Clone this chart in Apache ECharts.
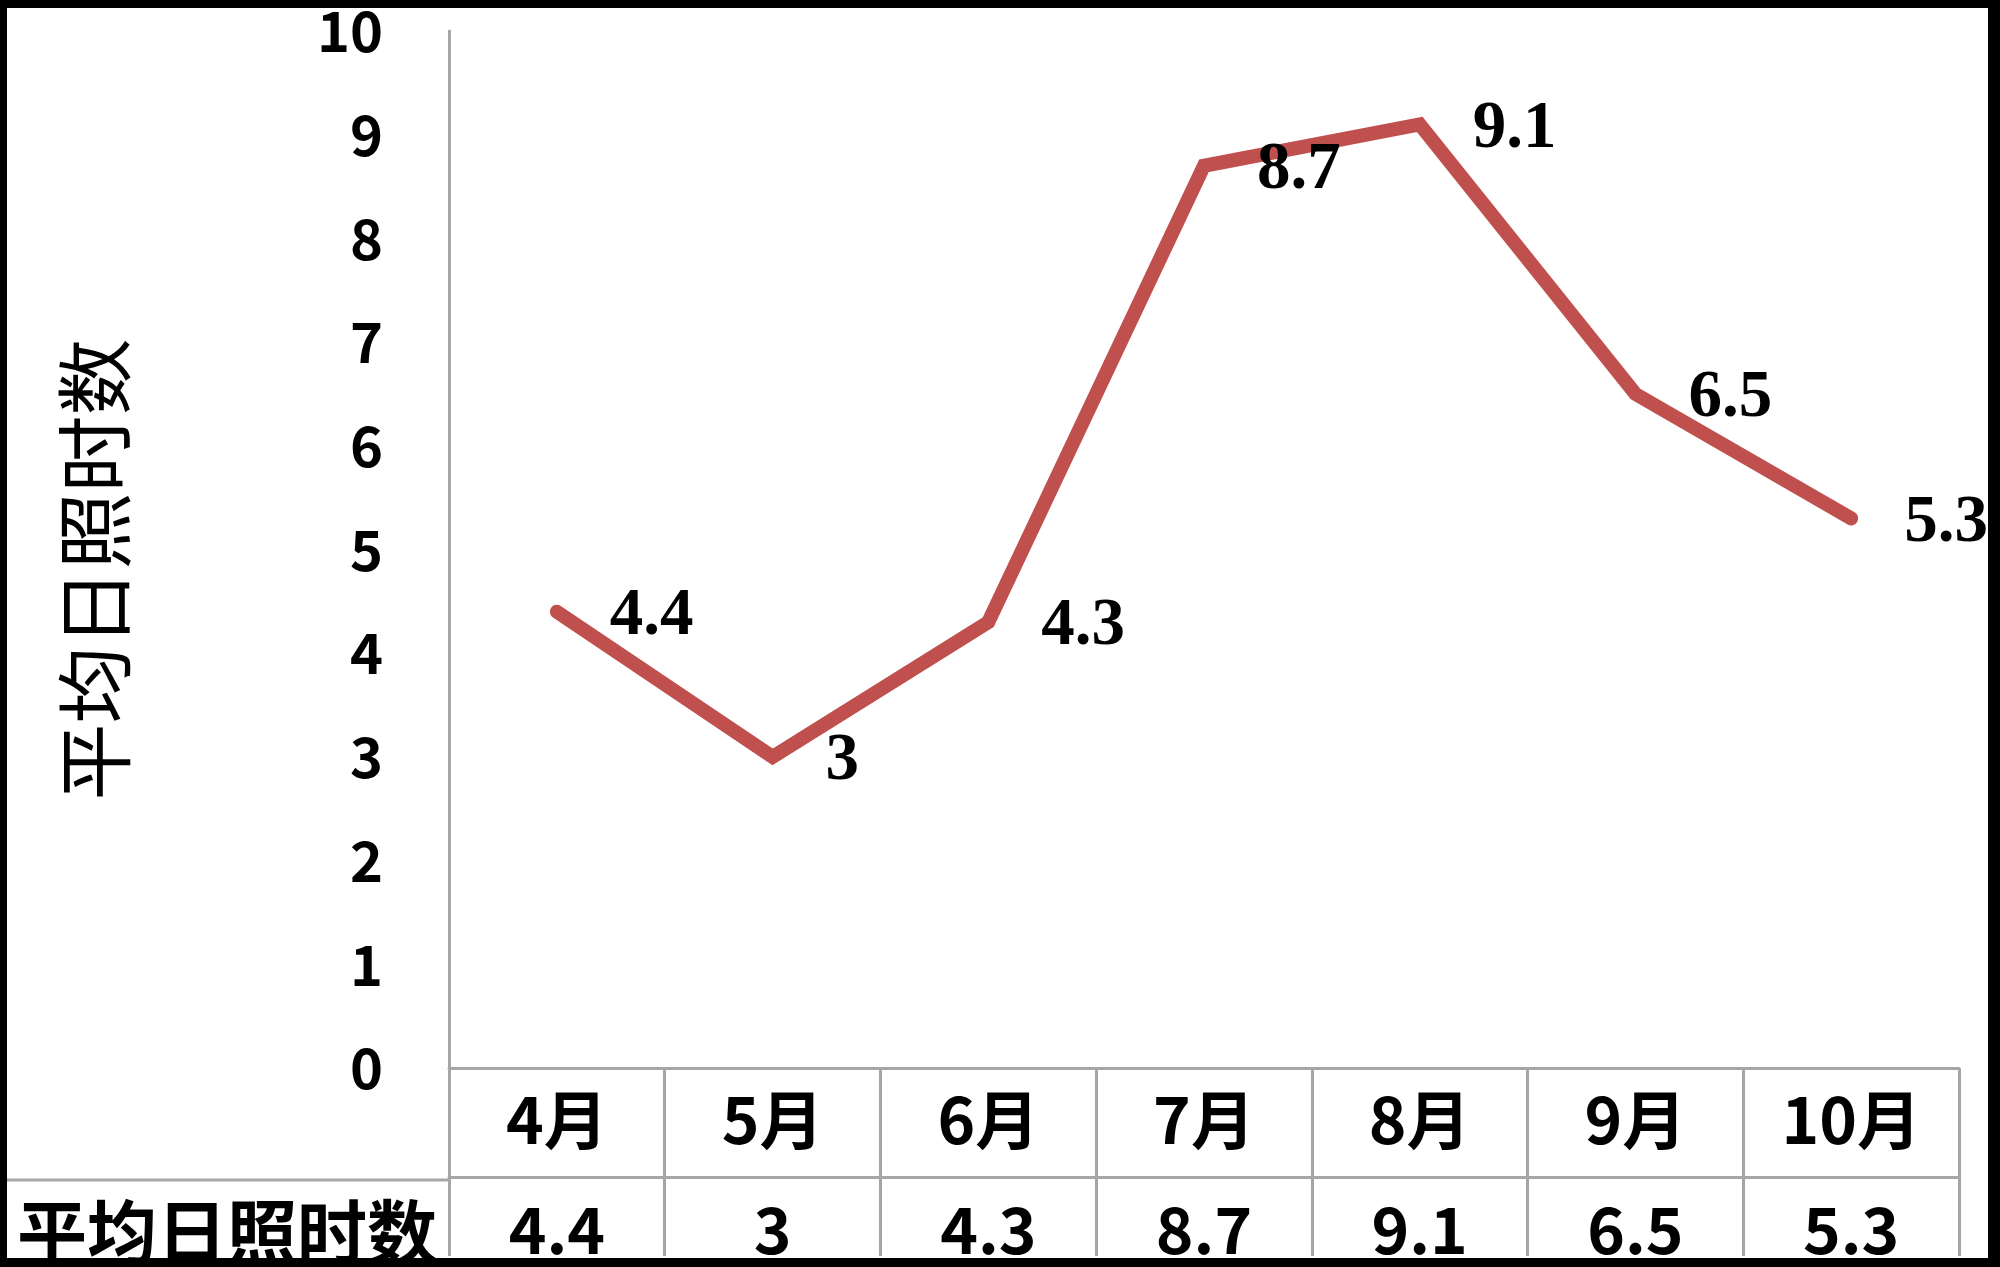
<!DOCTYPE html>
<html>
<head>
<meta charset="utf-8">
<script src="https://cdn.jsdelivr.net/npm/echarts@6/dist/echarts.min.js"></script>
<style>
  html, body { margin: 0; padding: 0; background: #fff; }
  #chart { width: 2000px; height: 1267px; }
</style>
</head>
<body>
<div id="chart"></div>
<script>
// months along the bottom and the average daily sunshine hours
const months = ['4月', '5月', '6月', '7月', '8月', '9月', '10月'];
const sunHours = [4.4, 3, 4.3, 8.7, 9.1, 6.5, 5.3];
const seriesName = '平均日照时数';
const yTicks = { min: 0, max: 10, interval: 1 };

const gridGray = '#A6A6A6';
const lineRed = '#C0504D';
const cjk = '"Noto Sans CJK SC", "Noto Sans", sans-serif';

const chart = echarts.init(document.getElementById('chart'));

chart.setOption({
  backgroundColor: '#fff',
  animation: false,
  grid: { left: 449, right: 41, top: 31, bottom: 196 },
  xAxis: [
    {
      type: 'category',
      data: months,
      boundaryGap: true,
      axisLine: { show: true, lineStyle: { color: gridGray, width: 3 } },
      axisTick: { show: true, length: 188, lineStyle: { color: gridGray, width: 3 } },
      axisLabel: {
        margin: 20,
        color: '#000',
        fontFamily: cjk,
        fontWeight: 'bold',
        fontSize: 64,
        lineHeight: 64
      }
    },
    {
      // second row of the data table: the values
      type: 'category',
      data: months,
      position: 'bottom',
      offset: 109,
      boundaryGap: true,
      axisLine: { show: true, lineStyle: { color: gridGray, width: 3 } },
      axisTick: { show: false },
      axisLabel: {
        margin: 21,
        color: '#000',
        fontFamily: cjk,
        fontWeight: 'bold',
        fontSize: 64,
        lineHeight: 64,
        formatter: (v, i) => String(sunHours[i])
      },
      name: seriesName,
      nameLocation: 'start',
      nameGap: 12,
      nameTextStyle: {
        color: '#000',
        fontFamily: cjk,
        fontWeight: 'bold',
        fontSize: 70,
        align: 'right',
        verticalAlign: 'top',
        padding: [20, 0, 0, 0]
      }
    }
  ],
  yAxis: {
    type: 'value',
    min: yTicks.min,
    max: yTicks.max,
    interval: yTicks.interval,
    axisLine: { show: true, lineStyle: { color: gridGray, width: 3 } },
    axisTick: { show: false },
    splitLine: { show: false },
    axisLabel: {
      margin: 66,
      color: '#000',
      fontFamily: cjk,
      fontWeight: 'bold',
      fontSize: 56
    },
    name: seriesName,
    nameLocation: 'middle',
    nameGap: 316,
    nameTextStyle: {
      color: '#000',
      fontFamily: cjk,
      fontSize: 77,
      padding: [0, 40, 0, 0]
    }
  },
  series: [
    {
      name: seriesName,
      type: 'line',
      data: sunHours,
      symbol: 'circle',
      symbolSize: 2,
      showSymbol: true,
      itemStyle: { color: lineRed },
      lineStyle: { color: lineRed, width: 14, cap: 'round', join: 'miter' },
      label: {
        show: true,
        position: 'right',
        distance: 52,
        offset: [0, 5],
        color: '#000',
        fontFamily: '"Liberation Serif", "Times New Roman", serif',
        fontWeight: 'bold',
        fontSize: 67
      }
    }
  ],
  graphic: [
    // left part of the table's middle rule
    { type: 'line', z: 50, shape: { x1: 0, y1: 1180, x2: 449, y2: 1180 }, style: { stroke: gridGray, lineWidth: 3 } },
    // black frame
    { type: 'rect', z: 100, shape: { x: 0, y: 0, width: 2000, height: 8 }, style: { fill: '#000' } },
    { type: 'rect', z: 100, shape: { x: 0, y: 0, width: 7, height: 1267 }, style: { fill: '#000' } },
    { type: 'rect', z: 100, shape: { x: 1988, y: 0, width: 12, height: 1267 }, style: { fill: '#000' } },
    { type: 'rect', z: 100, shape: { x: 0, y: 1258, width: 2000, height: 9 }, style: { fill: '#000' } }
  ]
});
</script>
</body>
</html>
